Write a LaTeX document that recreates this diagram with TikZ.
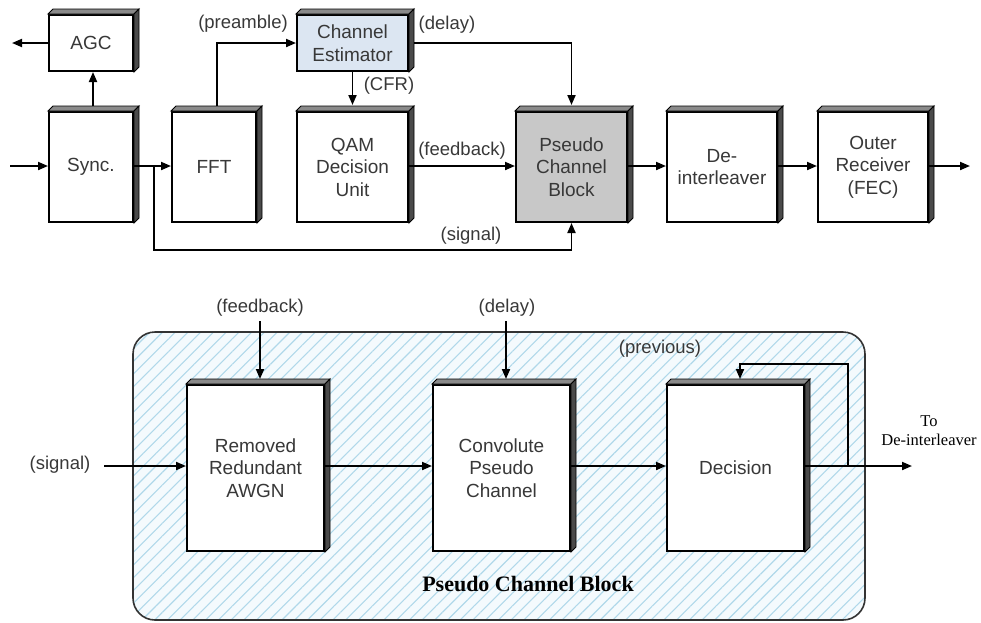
\documentclass[tikz,border=0pt]{standalone}
\usepackage{fontspec}
\setmainfont{Liberation Sans}
\newfontfamily\serifft{Liberation Serif}
\usetikzlibrary{arrows.meta,calc,patterns.meta}
\definecolor{txt}{HTML}{383838}
\definecolor{cefill}{HTML}{DCE6F2}
\definecolor{pcbfill}{HTML}{C8C8C8}
\definecolor{hatch}{HTML}{B0D8EA}
\definecolor{hatchbg}{HTML}{F4FAFD}
\definecolor{topbev}{HTML}{8A8A8A}
\definecolor{sidebev}{HTML}{4A4A4A}
\newcommand\bevelbox[1]{%
  \filldraw[draw=black, line width=0.9pt, fill=topbev] (#1.north west) -- ++(5,-5) -- ($(#1.north east)+(5,-5)$) -- (#1.north east) -- cycle;
  \filldraw[draw=black, line width=0.9pt, fill=sidebev] (#1.north east) -- ++(5,-5) -- ($(#1.south east)+(5,-5)$) -- (#1.south east) -- cycle;}
\begin{document}
\begin{tikzpicture}[x=1pt,y=-1pt,
 blk/.style={draw=black, line width=2pt, fill=white, align=center, inner sep=0pt, text=txt, font=\fontsize{19}{22.5}\selectfont},
 lbl/.style={text=txt, font=\fontsize{18.5}{22}\selectfont, inner sep=1pt},
 arr/.style={line width=1.9pt, -{Triangle[length=10pt,width=8pt]}}]
\useasboundingbox (0,0) rectangle (981,622);

% ---------- bottom frame ----------
\node[draw=black!80, line width=1.6pt, rounded corners=22pt, minimum width=732pt, minimum height=288pt,
      preaction={fill=hatchbg}, pattern={Lines[angle=45,distance=9pt,line width=1.1pt]}, pattern color=hatch]
      (frame) at (499,476) {};

% ---------- top row ----------
\node[blk, minimum width=84pt, minimum height=56pt] (agc) at (91,43) {AGC};
\node[blk, minimum width=84pt, minimum height=110pt] (sync) at (91,167) {Sync.};
\node[blk, minimum width=84pt, minimum height=110pt] (fft) at (214,167) {FFT};
\node[blk, fill=cefill, minimum width=111pt, minimum height=56pt] (ce) at (352.5,43) {Channel\\Estimator};
\node[blk, minimum width=111pt, minimum height=110pt] (qam) at (352.5,167) {QAM\\Decision\\Unit};
\node[blk, fill=pcbfill, minimum width=111pt, minimum height=110pt] (pcb) at (571.5,167) {Pseudo\\Channel\\Block};
\node[blk, minimum width=110pt, minimum height=110pt] (dei) at (722,167) {De-\\interleaver};
\node[blk, minimum width=110pt, minimum height=110pt] (outer) at (873,167) {Outer\\Receiver\\(FEC)};

% ---------- bottom row ----------
\node[blk, minimum width=137pt, minimum height=166pt] (rra) at (255.5,468) {Removed\\Redundant\\AWGN};
\node[blk, minimum width=137pt, minimum height=166pt] (conv) at (501.5,468) {Convolute\\Pseudo\\Channel};
\node[blk, minimum width=137pt, minimum height=166pt] (dec) at (735.5,468) {Decision};

\foreach \n in {agc,sync,fft,ce,qam,pcb,dei,outer,rra,conv,dec} {\bevelbox{\n}}

% ---------- top labels ----------
\node[lbl] (lpre) at (243,24) {(preamble)};
\node[lbl] (ldel) at (447,25) {(delay)};
\node[lbl] (lcfr) at (389,86) {(CFR)};
\node[lbl] (lfb) at (462,151) {(feedback)};
\node[lbl] (lsig) at (471,236) {(signal)};

% ---------- top connectors ----------
\coordinate (in) at (10,166);
\coordinate (agcout) at (12,43);
\coordinate (br) at (154,166);
\coordinate (out) at (970,166);
\draw[arr] (in) -- (in -| sync.west);
\draw[arr] (agc.west) -- (agcout);
\draw[arr] ($(sync.north)+(2,-5)$) -- ($(agc.south)+(2,0)$);
\draw[arr] (br -| sync.east) -- (br -| fft.west);
\draw[arr] (br) |- ($(pcb.south)+(0,27)$) -- (pcb.south);
\draw[arr] ($(fft.north)+(3,-5)$) |- (ce.west);
\draw[arr] ($(ce.east)+(5,0)$) -| ($(pcb.north)+(0,-6)$);
\draw[arr] (ce.south) -- ($(qam.north)+(0,-6)$);
\draw[arr] (br -| qam.east) -- (br -| pcb.west);
\draw[arr] (br -| pcb.east) -- (br -| dei.west);
\draw[arr] (br -| dei.east) -- (br -| outer.west);
\draw[arr] (br -| outer.east) -- (out);

% ---------- bottom labels ----------
\node[lbl] (bfb) at (260,308) {(feedback)};
\node[lbl] (bdel) at (507,308) {(delay)};
\node[lbl] (bprev) at (660,349) {(previous)};
\node[lbl] (bsig) at (60,465) {(signal)};
\node[font=\serifft\fontsize{16.5}{19}\selectfont, align=center, inner sep=0pt] (bto) at (929,431) {To\\De-interleaver};
\node[font=\serifft\bfseries\fontsize{22}{26}\selectfont, inner sep=0pt] (btitle) at (528,584) {Pseudo Channel Block};

% ---------- bottom connectors ----------
\coordinate (sigin) at (104,466);
\coordinate (toout) at (912,466);
\coordinate (tap) at (848,466);
\coordinate (fbin) at (260,321);
\coordinate (delin) at (506,321);
\draw[arr] (sigin) -- (sigin -| rra.west);
\draw[arr] (sigin -| rra.east) -- (sigin -| conv.west);
\draw[arr] (sigin -| conv.east) -- (sigin -| dec.west);
\draw[arr] (sigin -| dec.east) -- (toout);
\draw[arr] (fbin) -- ($(rra.north)+(4.5,-5)$);
\draw[arr] (delin) -- ($(conv.north)+(4.5,-5)$);
\draw[arr] (tap) |- ($(dec.north)+(4.5,-20)$) -- ($(dec.north)+(4.5,-5)$);
\end{tikzpicture}
\end{document}
